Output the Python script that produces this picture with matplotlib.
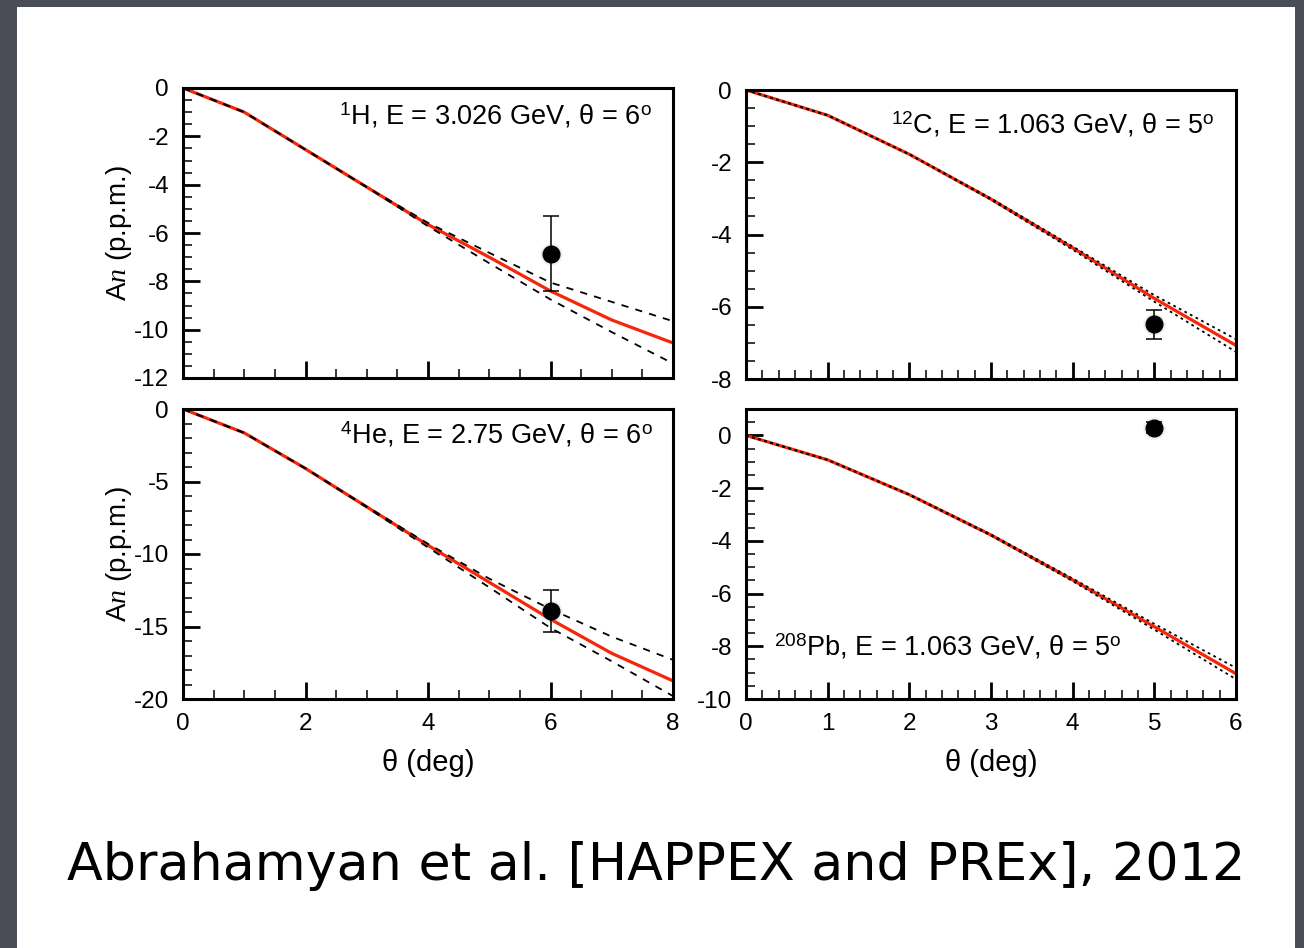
import matplotlib
matplotlib.use('Agg')
import matplotlib.pyplot as plt
from matplotlib.ticker import MultipleLocator
from matplotlib.patches import Rectangle

plt.rcParams['font.family'] = ['Liberation Sans', 'DejaVu Sans']
plt.rcParams['mathtext.fontset'] = 'custom'
plt.rcParams['mathtext.rm'] = 'Liberation Sans'
plt.rcParams['mathtext.it'] = 'Liberation Serif:italic'
plt.rcParams['axes.unicode_minus'] = False

# ---- data ----
# 1H, E = 3.026 GeV
theta_h = [0, 1, 2, 3, 4, 5, 6, 7, 8]
an_h = [0, -1.0, -2.55, -4.1, -5.65, -7.0, -8.4, -9.6, -10.55]
an_h_up = [0, -1.0, -2.55, -4.1, -5.58, -6.82, -8.05, -8.85, -9.65]
an_h_lo = [0, -1.0, -2.55, -4.1, -5.72, -7.25, -8.75, -10.1, -11.4]
meas_h = (6, -6.85, 1.55)

# 12C, E = 1.063 GeV
theta_c = [0, 1, 2, 3, 4, 5, 6]
an_c = [0, -0.70, -1.78, -3.02, -4.37, -5.77, -7.07]
an_c_up = [0, -0.70, -1.78, -3.0, -4.33, -5.68, -6.9]
an_c_lo = [0, -0.70, -1.78, -3.04, -4.42, -5.86, -7.25]
meas_c = (5, -6.49, 0.39)

# 4He, E = 2.75 GeV
theta_he = [0, 1, 2, 3, 4, 5, 6, 7, 8]
an_he = [0, -1.65, -4.1, -6.75, -9.4, -11.95, -14.5, -16.85, -18.75]
an_he_up = [0, -1.65, -4.1, -6.72, -9.3, -11.7, -13.8, -15.7, -17.3]
an_he_lo = [0, -1.65, -4.1, -6.78, -9.55, -12.3, -15.1, -17.4, -19.8]
meas_he = (6, -13.95, 1.45)

# 208Pb, E = 1.063 GeV
theta_pb = [0, 1, 2, 3, 4, 5, 6]
an_pb = [0, -0.93, -2.25, -3.78, -5.48, -7.26, -9.04]
an_pb_up = [0, -0.93, -2.24, -3.76, -5.43, -7.15, -8.82]
an_pb_lo = [0, -0.93, -2.26, -3.80, -5.53, -7.37, -9.25]
meas_pb = (5, 0.29, 0.2)

labels = [r'$^{1}$H, E = 3.026 GeV, θ = 6$^{\rm o}$',
          r'$^{12}$C, E = 1.063 GeV, θ = 5$^{\rm o}$',
          r'$^{4}$He, E = 2.75 GeV, θ = 6$^{\rm o}$',
          r'$^{208}$Pb, E = 1.063 GeV, θ = 5$^{\rm o}$']
ylabel = r'A$n$ (p.p.m.)'
xlabel = 'θ (deg)'
caption = 'Abrahamyan et al. [HAPPEX and PREx], 2012'

W, H = 1304, 948
fig = plt.figure(figsize=(W / 100, H / 100), dpi=100, facecolor='#4a4c56')
fig.add_artist(Rectangle((17 / W, 0), 1278 / W, 941 / H, transform=fig.transFigure,
                         facecolor='white', edgecolor='none', zorder=-10))


def pix_axes(x0, y0, x1, y1):
    return fig.add_axes([x0 / W, 1 - y1 / H, (x1 - x0) / W, (y1 - y0) / H])


def panel(ax, theta, an, up, lo, meas, xlim, ylim, xt, yt, dash, label, lx, ly, ha, bottom_labels):
    ax.plot(theta, an, color='#f5260a', lw=2.3, zorder=2)
    ax.plot(theta, up, color='black', lw=1.3, ls=dash, zorder=3)
    ax.plot(theta, lo, color='black', lw=1.3, ls=dash, zorder=3)
    ax.plot(meas[0], meas[1], 'o', ms=16, color='0.6', alpha=0.15, mec='none', zorder=4)
    ax.errorbar(meas[0], meas[1], yerr=meas[2], fmt='o', ms=12, color='black',
                ecolor='black', elinewidth=1.1, capsize=6, capthick=1.1, zorder=5)
    ax.set_xlim(*xlim)
    ax.set_ylim(*ylim)
    ax.xaxis.set_major_locator(MultipleLocator(xt[0]))
    ax.xaxis.set_minor_locator(MultipleLocator(xt[1]))
    ax.yaxis.set_major_locator(MultipleLocator(yt[0]))
    ax.yaxis.set_minor_locator(MultipleLocator(yt[1]))
    ax.tick_params(which='both', direction='in', top=False, right=False,
                   labelsize=17.5, pad=10, labelbottom=bottom_labels)
    ax.tick_params(which='major', length=12.5, width=2.0)
    ax.tick_params(which='minor', length=6.5, width=1.1)
    for s in ax.spines.values():
        s.set_linewidth(2.2)
    ax.text(lx, ly, label, transform=ax.transAxes, ha=ha, va='center', fontsize=19.5)


ax1 = pix_axes(183, 88, 673, 378)
ax2 = pix_axes(746, 90, 1236, 379)
ax3 = pix_axes(183, 409, 673, 699)
ax4 = pix_axes(746, 409, 1236, 699)

dashed = (0, (4, 4))
dotted = (0, (1.5, 2))
panel(ax1, theta_h, an_h, an_h_up, an_h_lo, meas_h, (0, 8), (-12, 0), (2, 0.5), (2, 0.5),
      dashed, labels[0], 0.957, 0.905, 'right', False)
panel(ax2, theta_c, an_c, an_c_up, an_c_lo, meas_c, (0, 6), (-8, 0), (1, 0.2), (2, 0.5),
      dotted, labels[1], 0.957, 0.88, 'right', False)
panel(ax3, theta_he, an_he, an_he_up, an_he_lo, meas_he, (0, 8), (-20, 0), (2, 0.5), (5, 1),
      dashed, labels[2], 0.96, 0.91, 'right', True)
panel(ax4, theta_pb, an_pb, an_pb_up, an_pb_lo, meas_pb, (0, 6), (-10, 1), (1, 0.2), (2, 0.5),
      dotted, labels[3], 0.057, 0.18, 'left', True)

fig.text(119 / W, 1 - 233 / H, ylabel, rotation=90, ha='center', va='center', fontsize=20)
fig.text(119 / W, 1 - 554 / H, ylabel, rotation=90, ha='center', va='center', fontsize=20)
fig.text(428 / W, 1 - 763 / H, xlabel, ha='center', va='center', fontsize=21)
fig.text(991 / W, 1 - 763 / H, xlabel, ha='center', va='center', fontsize=21)

cap = fig.text(656 / W, 1 - 880 / H, caption, ha='center', va='baseline',
               fontsize=34, family=['DejaVu Sans'])
fig.canvas.draw()
cap.set_fontsize(34 * 1177 / cap.get_window_extent().width)

fig.savefig('out.png', dpi=100, facecolor=fig.get_facecolor())
